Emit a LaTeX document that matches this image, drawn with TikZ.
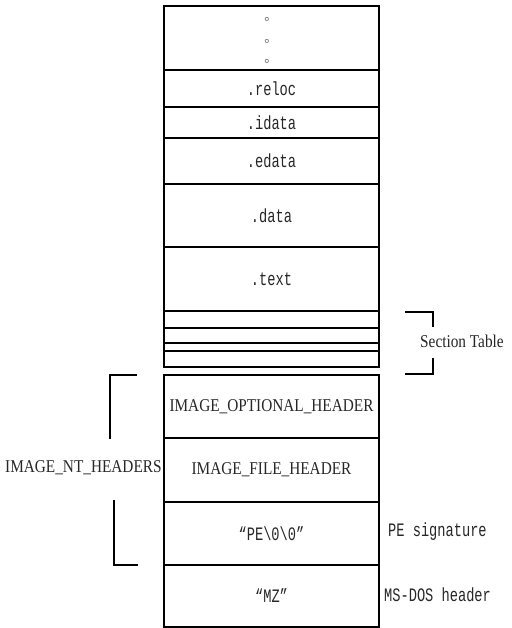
\documentclass[tikz,border=0pt]{standalone}
\usepackage{fontspec}
\newfontfamily\monof[FakeStretch=0.72]{Liberation Mono}
\newfontfamily\serf[FakeStretch=0.85]{Liberation Serif}
\newfontfamily\symf{DejaVu Sans}
\begin{document}
\begin{tikzpicture}[x=1pt,y=-1pt,
  cell/.style={draw, line width=1.6pt, minimum width=215pt, inner sep=0pt, anchor=center},
  mono/.style={font=\monof\fontsize{19}{19}\selectfont, text=black!85},
  serif/.style={font=\serf\fontsize{18}{18}\selectfont, text=black!85},
  brk/.style={line width=1.6pt},
  dot/.style={font=\symf\fontsize{13}{13}\selectfont, text=black!55, inner sep=0pt}]
\useasboundingbox (0,0) rectangle (511,628);
% stack
\node[cell, minimum height=64pt] (dots) at (271.5,38) {};
\node[cell, minimum height=37pt, mono] (reloc) at (271.5,88.5) {.reloc};
\node[cell, minimum height=31pt, mono] (idata) at (271.5,122.5) {.idata};
\node[cell, minimum height=46pt, mono] (edata) at (271.5,161) {.edata};
\node[cell, minimum height=63pt, mono] (data) at (271.5,215.5) {.data};
\node[cell, minimum height=64pt, mono] (text) at (271.5,279) {.text};
\node[cell, minimum height=17pt] (st1) at (271.5,319.5) {};
\node[cell, minimum height=15pt] (st2) at (271.5,335.5) {};
\node[cell, minimum height=8pt] (st3) at (271.5,347) {};
\node[cell, minimum height=16pt] (st4) at (271.5,359) {};
\node[cell, minimum height=63pt, serif] (opt) at (271.5,406.5) {IMAGE\_OPTIONAL\_HEADER};
\node[cell, minimum height=64pt, serif] (file) at (271.5,470) {IMAGE\_FILE\_HEADER};
\node[cell, minimum height=63pt, mono] (pe) at (271.5,533.5) {“PE\textbackslash0\textbackslash0”};
\node[cell, minimum height=62pt, mono] (mz) at (271.5,596) {“MZ”};
% dots
\node[dot] (d1) at (267,20) {∘};
\node[dot] (d2) at (267,42) {∘};
\node[dot] (d3) at (267,62) {∘};
% labels
\node[serif, anchor=west, inner sep=0pt] (stlab) at (420,341) {Section Table};
\node[serif, anchor=west, inner sep=0pt] (ntlab) at (5,468) {IMAGE\_NT\_HEADERS};
\node[mono, anchor=west, inner sep=0pt] (pelab) at (388,532) {PE signature};
\node[mono, anchor=west, inner sep=0pt] (mzlab) at (384,595) {MS-DOS header};
% brackets
\draw[brk] (405,312) -| (433,327);
\draw[brk] (433,358) |- (405,374);
\draw[brk] (137,375) -| (110,439);
\draw[brk] (114,500) |- (138,565);
\end{tikzpicture}
\end{document}
